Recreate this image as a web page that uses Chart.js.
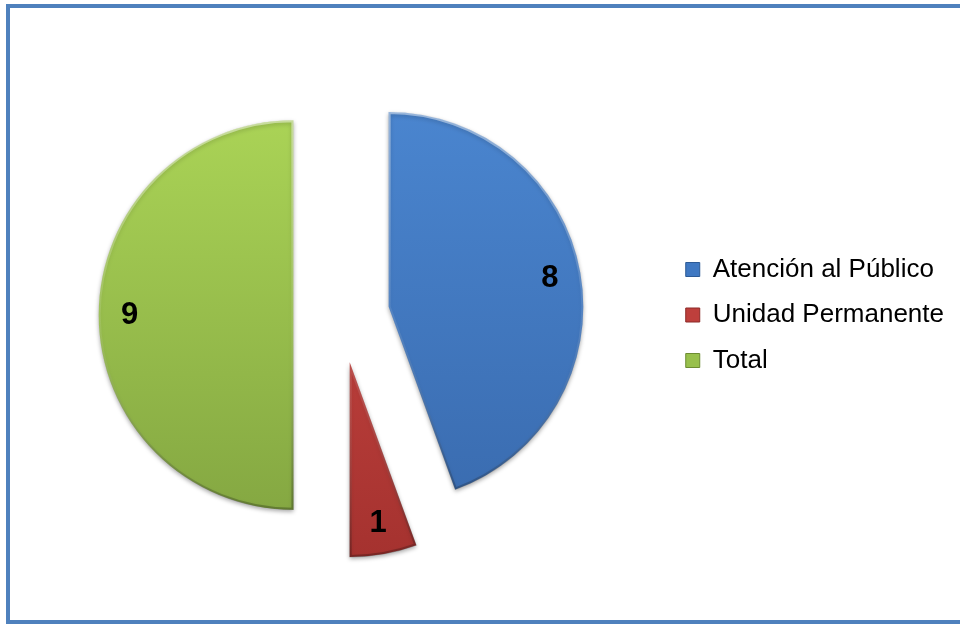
<!DOCTYPE html>
<html>
<head>
<meta charset="utf-8">
<script src="https://cdn.jsdelivr.net/npm/chart.js@4.4.1/dist/chart.umd.min.js"></script>
<style>
  html, body { margin: 0; padding: 0; background: #fff; }
  body { width: 960px; height: 624px; position: relative; overflow: hidden; }
  .frame { position: absolute; left: 6px; top: 4px; width: 1000px; height: 612px; border: 4px solid #4f81bd; }
  #pie { position: absolute; left: 0; top: 0; }
</style>
</head>
<body>
<div class="frame"></div>
<canvas id="pie" width="960" height="624"></canvas>
<script>
const categories = ['Atención al Público', 'Unidad Permanente', 'Total'];
const values = [8, 1, 9];

const topColors = ['#4a85cf', '#cc4844', '#aad356'];
const bottomColors = ['#3a6cb0', '#a5322f', '#85a842'];
const legendColors = ['#3f78c2', '#be3f3c', '#98c04c'];
const legendEdges = ['#2c5a96', '#8c2a28', '#6d8c32'];

const EXPLODE = 48;

// vertical shading across the pie, in the slice's own (unshifted) space
function shade(list) {
  return (c) => {
    const area = c.chart.chartArea;
    if (!area) return list[c.dataIndex];
    const g = c.chart.ctx.createLinearGradient(0, area.top, 0, area.bottom);
    g.addColorStop(0, topColors[c.dataIndex]);
    g.addColorStop(1, bottomColors[c.dataIndex]);
    return g;
  };
}

function edge(c) {
  const area = c.chart.chartArea;
  if (!area) return 'rgba(255,255,255,0.3)';
  const g = c.chart.ctx.createLinearGradient(0, area.top, 0, area.bottom);
  g.addColorStop(0, 'rgba(255,255,255,0.45)');
  g.addColorStop(0.5, 'rgba(255,255,255,0.1)');
  g.addColorStop(1, 'rgba(0,0,0,0.25)');
  return g;
}

// pull every slice away from the centre along its mid angle
const explode = {
  id: 'explode',
  beforeDatasetDraw(chart, args) {
    const ctx = chart.ctx;
    args.meta.data.forEach(arc => {
      const mid = (arc.startAngle + arc.endAngle) / 2;
      ctx.save();
      ctx.translate(Math.cos(mid) * EXPLODE, Math.sin(mid) * EXPLODE);
      ctx.shadowColor = 'rgba(0,0,0,0.35)';
      ctx.shadowBlur = 4;
      ctx.shadowOffsetY = 2;
      arc.draw(ctx);
      ctx.restore();
    });
    return false;
  }
};

const valueLabels = {
  id: 'valueLabels',
  afterDatasetsDraw(chart) {
    const ctx = chart.ctx;
    const meta = chart.getDatasetMeta(0);
    ctx.save();
    ctx.font = 'bold 31px "Liberation Sans", Arial, sans-serif';
    ctx.fillStyle = '#000';
    ctx.textAlign = 'center';
    ctx.textBaseline = 'middle';
    meta.data.forEach((arc, i) => {
      const mid = (arc.startAngle + arc.endAngle) / 2;
      const r = EXPLODE + arc.outerRadius * 0.84;
      ctx.fillText(String(values[i]), arc.x + Math.cos(mid) * r, arc.y + Math.sin(mid) * r);
    });
    ctx.restore();
  }
};

new Chart(document.getElementById('pie'), {
  type: 'pie',
  data: {
    labels: categories,
    datasets: [{
      data: values,
      backgroundColor: shade(legendColors),
      borderColor: edge,
      borderWidth: 2,
      borderAlign: 'inner',
      clip: false
    }]
  },
  options: {
    responsive: false,
    animation: false,
    layout: { padding: { left: 16.5, right: 6, top: 120, bottom: 114 } },
    plugins: {
      tooltip: { enabled: false },
      legend: {
        position: 'right',
        labels: {
          boxWidth: 14,
          boxHeight: 14,
          padding: 19.5,
          color: '#000',
          font: { family: '"Liberation Sans", Arial, sans-serif', size: 26 },
          generateLabels(chart) {
            const items = Chart.overrides.doughnut.plugins.legend.labels.generateLabels(chart);
            items.forEach((it, i) => {
              it.fillStyle = legendColors[i];
              it.strokeStyle = legendEdges[i];
              it.lineWidth = 1;
            });
            return items;
          }
        }
      }
    }
  },
  plugins: [explode, valueLabels]
});
</script>
</body>
</html>
